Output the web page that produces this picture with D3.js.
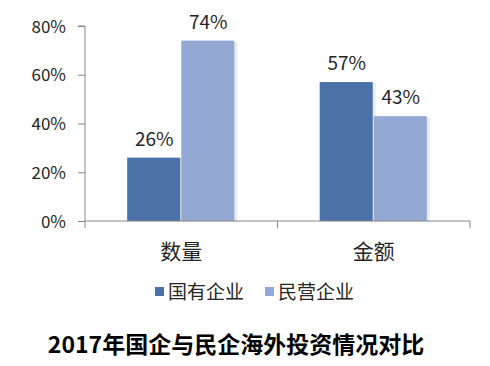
<!DOCTYPE html>
<html><head><meta charset="utf-8">
<script src="https://cdn.jsdelivr.net/npm/d3@7"></script>
<style>
body{margin:0;background:#fff;}
text{font-family:"Noto Sans CJK SC","Noto Sans",sans-serif;fill:#262626;}
</style></head>
<body><svg id="c" width="490" height="366"></svg>
<script>
const categories = ["数量", "金额"];
const seriesNames = ["国有企业", "民营企业"];
const stateValues = [26, 57];
const privateValues = [74, 43];
const yTicks = [0, 20, 40, 60, 80];
const title = "2017年国企与民企海外投资情况对比";
const colors = ["#4A72A8", "#93A9D3"];

const svg = d3.select("#c");
const x0 = 85, x1 = 470, yTop = 26, yBot = 221;
const x = d3.scaleBand().domain(categories).range([x0, x1]);
const xs = d3.scaleBand().domain(seriesNames).range([0, x.bandwidth()]).paddingInner(0.0).paddingOuter(0.78);
const y = d3.scaleLinear().domain([0, 80]).range([yBot, yTop]);

const data = categories.map((c, i) => ({cat: c, vals: [stateValues[i], privateValues[i]]}));

// bars
const g = svg.append("g");
data.forEach(d => {
  d.vals.forEach((v, j) => {
    const bx = x(d.cat) + xs(seriesNames[j]);
    g.append("rect").attr("x", bx + 2).attr("y", y(v) + 1).attr("width", xs.bandwidth()).attr("height", yBot - y(v))
      .attr("fill", "#000").attr("opacity", 0.08);
    g.append("rect").attr("x", bx).attr("y", y(v)).attr("width", xs.bandwidth() - 1).attr("height", yBot - y(v))
      .attr("fill", colors[j]);
    g.append("text").attr("x", bx + xs.bandwidth() / 2).attr("y", y(v) - 12)
      .attr("text-anchor", "middle").attr("font-size", 19).text(v + "%");
  });
});

// y axis
const ya = svg.append("g").attr("transform", `translate(${x0},0)`)
  .call(d3.axisLeft(y).tickValues(yTicks).tickSize(7).tickPadding(12).tickFormat(d => d + "%"));
ya.select(".domain").attr("stroke", "#868686").attr("d", `M-7,${yTop}H0V${yBot}`);
ya.selectAll(".tick line").attr("stroke", "#868686");
ya.selectAll(".tick text").attr("font-size", 17).attr("fill", "#262626").attr("dy", "0.36em")
  .style("font-family", "'Noto Sans CJK SC','Noto Sans',sans-serif");

// x axis
const xa = svg.append("g").attr("transform", `translate(0,${yBot})`);
xa.append("line").attr("x1", x0).attr("x2", x1).attr("stroke", "#868686");
[x0, x0 + x.bandwidth(), x1].forEach(t => xa.append("line").attr("x1", t).attr("x2", t).attr("y1", 0).attr("y2", 7).attr("stroke", "#868686"));
categories.forEach(c => {
  svg.append("text").attr("x", x(c) + x.bandwidth() / 2).attr("y", 259).attr("text-anchor", "middle")
    .attr("font-size", 21).text(c);
});

// legend
const legX = [155, 265];
seriesNames.forEach((s, j) => {
  svg.append("rect").attr("x", legX[j]).attr("y", 287).attr("width", 9).attr("height", 9).attr("fill", colors[j]);
  svg.append("text").attr("x", legX[j] + 13).attr("y", 299).attr("font-size", 19).text(s);
});

// title
svg.append("text").attr("x", 236).attr("y", 353).attr("text-anchor", "middle")
  .attr("font-size", 23).attr("font-weight", "bold").style("fill", "#000").text(title);
</script></body></html>
